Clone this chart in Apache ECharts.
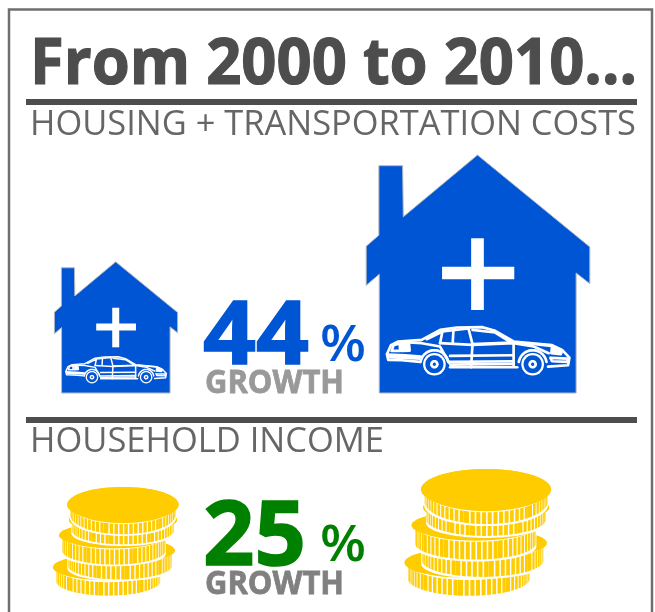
<!DOCTYPE html>
<html>
<head>
<meta charset="utf-8">
<style>html,body{margin:0;padding:0;background:#fff}#c{width:655px;height:612px}</style>
<script src="https://cdn.jsdelivr.net/npm/echarts@6/dist/echarts.min.js"></script>
</head>
<body>
<div id="c"></div>
<script>
const years = ['2000', '2010'];
const housingIndex = [100, 144];
const incomeIndex = [100, 125];
const housingGrowth = 44;
const incomeGrowth = 25;
const titleText = 'From 2000 to 2010...';
const housingLabel = 'HOUSING + TRANSPORTATION COSTS';
const incomeLabel = 'HOUSEHOLD INCOME';
const growthLabel = 'GROWTH';

const BLUE = '#0055d4', GOLD = '#ffcc00', GREEN = '#008000', DARK = '#4d4d4d';

/* ---------- icon geometry (house box 669x712 units, origin 19,45) ---------- */
const houseOutline = [[57,77],[128,77],[130,230],[352,45],[688,320],[688,430],[647,398],[647,757],[58,757],[58,402],[19,435],[19,318],[57,285]];
const plusV = [[333,294],[371,294],[371,509],[333,509]];
const plusH = [[246,379],[462,379],[462,417],[246,417]];
/* car artwork, offset from point 75,546 of the house box */
const carLines = [
  [[105,118],[50,113],[10,112],[6,95],[18,68],[40,57],[110,52],[165,22],[215,15],[290,14],[330,25],[385,57],[500,68],[530,82],[552,105],[548,128],[488,132]],
  [[396,134],[195,134]],
  [[125,50],[172,27],[165,62]],
  [[172,27],[250,18],[262,65],[258,134]],
  [[262,22],[330,30],[378,60],[262,65]],
  [[205,24],[203,58]],
  [[165,62],[262,67],[385,62],[385,132]],
  [[72,60],[110,62],[165,72],[192,120]],
  [[195,100],[385,98]],
  [[195,118],[385,116]],
  [[195,126],[385,124]],
  [[26,68],[45,62],[45,85],[20,85],[26,68]],
  [[50,62],[72,62],[74,84],[50,85],[50,62]],
  [[8,96],[60,98],[108,102]],
  [[385,62],[445,72],[490,92]],
  [[500,72],[530,84],[526,95],[498,92],[500,72]],
  [[495,106],[546,108],[546,118],[500,116],[495,106]],
  [[400,60],[498,70]]
];
const carFills = [
  [[52,64],[72,64],[72,83],[52,83]],
  [[8,96],[105,103],[105,112],[8,108]],
  [[500,72],[530,84],[526,95],[498,92]]
];
const wheels = [[148,125],[442,125]];

function ring(cx, cy, rx, ry, from, to, n) {
  const p = [];
  for (let i = 0; i <= n; i++) {
    const t = from + (to - from) * i / n;
    p.push([cx + rx * Math.cos(t), cy + ry * Math.sin(t)]);
  }
  return p;
}

function poly(points, fill, map, stroke) {
  return {
    type: 'polygon',
    shape: { points: points.map(map) },
    style: { fill: fill, stroke: stroke || null, lineWidth: stroke ? 1 : 0 }
  };
}

function renderHouse(params, api) {
  const top = api.coord([api.value(0), api.value(1)]);
  const bottom = params.coordSys.y + params.coordSys.height;
  const k = (bottom - top[1]) / 712;
  const map = p => [top[0] + (p[0] - 353.5) * k, top[1] + (p[1] - 45) * k];
  const carMap = p => map([p[0] + 75, p[1] + 546]);
  const line = (pts, w) => ({
    type: 'polyline',
    shape: { points: pts.map(carMap) },
    style: { fill: null, stroke: '#fff', lineWidth: Math.max(w * k, 1.2), lineJoin: 'round', lineCap: 'round' }
  });
  const kids = [];
  kids.push(poly(houseOutline, BLUE, map, '#b4b8c0'));
  kids.push(poly(plusV, '#fff', map));
  kids.push(poly(plusH, '#fff', map));
  carFills.forEach(c => kids.push(poly(c, '#fff', carMap)));
  carLines.forEach(l => kids.push(line(l, 8)));
  wheels.forEach(w => {
    kids.push(line(ring(w[0], w[1], 42, 42, 3.3, 6.12, 18), 8));
    kids.push(poly(ring(w[0], w[1], 34, 34, 0, 6.283, 28), '#fff', carMap));
    kids.push(poly(ring(w[0], w[1], 27, 27, 0, 6.283, 28), BLUE, carMap));
    kids.push(poly(ring(w[0], w[1], 13, 13, 0, 6.283, 20), '#fff', carMap));
    kids.push(poly(ring(w[0], w[1], 5, 5, 0, 6.283, 12), BLUE, carMap));
  });
  return { type: 'group', children: kids };
}

/* coin icon box: 373x320 units, origin 42,52 */
const coins = [
  { cx: 205, cy: 290, rx: 163, ry: 38, band: 40, wide: [8, 17, 24] },
  { cx: 240, cy: 240, rx: 163, ry: 36, band: 44, wide: [6, 14, 20] },
  { cx: 222, cy: 195, rx: 162, ry: 36, band: 45, wide: [11, 21, 26] },
  { cx: 249, cy: 150, rx: 160, ry: 36, band: 30, wide: [9, 18, 22] },
  { cx: 249, cy: 104, rx: 165, ry: 52, band: 30, wide: [7, 19] }
];

function renderCoins(params, api) {
  const top = api.coord([api.value(0), api.value(1)]);
  const bottom = params.coordSys.y + params.coordSys.height;
  const k = (bottom - top[1]) / 320;
  const map = p => [top[0] + (p[0] - 228.5) * k, top[1] + (p[1] - 52) * k];
  const kids = [];
  coins.forEach(c => {
    const rrx = c.rx * 0.95;
    const gapTop = 6;
    kids.push(poly(ring(c.cx, c.cy, c.rx, c.ry, 0, 6.283, 60), GOLD, map));
    kids.push(poly(ring(c.cx, c.cy + 1, c.rx * 0.955, c.ry + 2, 0, 3.1416, 30)
      .concat(ring(c.cx, c.cy + c.band + 9, c.rx * 0.955, c.ry + 2, 3.1416, 0, 30)), '#fff', map));
    const n = 32;
    for (let i = 0; i < n; i++) {
      const isWide = c.wide.indexOf(i) >= 0;
      const t0 = 0.08 + (Math.PI - 0.16) * i / n;
      const t1 = 0.08 + (Math.PI - 0.16) * (i + (isWide ? 0.98 : 0.72)) / n;
      const a = [c.cx + rrx * Math.cos(t0), c.cy + (c.ry + gapTop) * Math.sin(t0)];
      const b = [c.cx + rrx * Math.cos(t1), c.cy + (c.ry + gapTop) * Math.sin(t1)];
      kids.push(poly([a, b, [b[0], b[1] + c.band], [a[0], a[1] + c.band]], GOLD, map));
    }
    kids.push(poly(ring(c.cx, c.cy, c.rx, c.ry, 0, 6.283, 60), GOLD, map));
  });
  return { type: 'group', children: kids };
}

/* ---------- text fitted to the measured width in the reference ---------- */
const measurer = document.createElement('canvas').getContext('2d');
function fitted(text, x, yMid, width, font, fill, thicken) {
  measurer.font = font;
  return {
    type: 'text', x: x, y: yMid, scaleX: width / measurer.measureText(text).width, silent: true,
    style: { text: text, font: font, fill: fill, align: 'left', verticalAlign: 'middle',
      stroke: thicken ? fill : null, lineWidth: thicken || 0 }
  };
}

const chart = echarts.init(document.getElementById('c'), null, { renderer: 'canvas' });
chart.setOption({
  animation: false,
  backgroundColor: '#fff',
  grid: [
    { left: -65, width: 724, top: 155, height: 238, outerBoundsMode: 'none' },
    { left: -65, width: 724, top: 469, height: 126, outerBoundsMode: 'none' }
  ],
  xAxis: [
    { type: 'category', data: years, gridIndex: 0, show: false },
    { type: 'category', data: years, gridIndex: 1, show: false }
  ],
  yAxis: [
    { type: 'value', gridIndex: 0, min: 46, max: 144, show: false },
    { type: 'value', gridIndex: 1, min: -50, max: 125, show: false }
  ],
  series: [
    { type: 'custom', name: 'Housing + transportation costs', xAxisIndex: 0, yAxisIndex: 0,
      data: years.map((y, i) => [i, housingIndex[i]]), encode: { x: 0, y: 1 }, renderItem: renderHouse, silent: true },
    { type: 'custom', name: 'Household income', xAxisIndex: 1, yAxisIndex: 1,
      data: years.map((y, i) => [i, incomeIndex[i]]), encode: { x: 0, y: 1 }, renderItem: renderCoins, silent: true }
  ],
  graphic: [
    { type: 'rect', shape: { x: 9, y: 9.5, width: 643, height: 620 }, style: { fill: null, stroke: '#6f6f6f', lineWidth: 2.5 }, silent: true },
    fitted(titleText, 30, 65, 607, 'bold 65px "Open Sans"', DARK, 1.2),
    { type: 'rect', shape: { x: 26, y: 99, width: 611, height: 6 }, style: { fill: DARK }, silent: true },
    fitted(housingLabel, 30, 125, 606, '35px "Open Sans"', '#666666'),
    fitted(String(housingGrowth), 203, 339, 106, 'bold 88px "Open Sans"', BLUE, 1.5),
    fitted('%', 320, 347, 46, '600 50px "Open Sans"', BLUE),
    fitted(growthLabel, 205, 384, 139, 'bold 33px "Open Sans"', '#999999', 0.8),
    { type: 'rect', shape: { x: 26, y: 417, width: 611, height: 6 }, style: { fill: DARK }, silent: true },
    fitted(incomeLabel, 30, 442, 354, '35px "Open Sans"', '#666666'),
    fitted(String(incomeGrowth), 203, 539, 103, 'bold 90px "Open Sans"', GREEN, 1.5),
    fitted('%', 320, 547, 46, '600 50px "Open Sans"', GREEN),
    fitted(growthLabel, 205, 585, 139, 'bold 33px "Open Sans"', '#808080', 0.8)
  ]
});
</script>
</body>
</html>
